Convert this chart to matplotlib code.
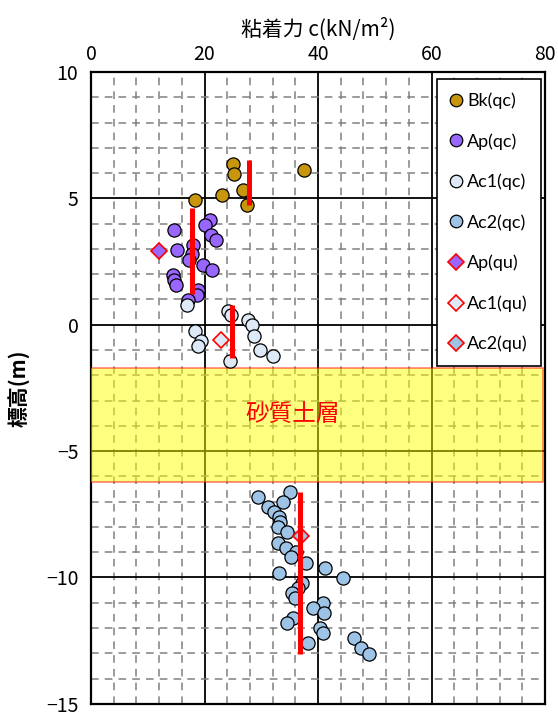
import numpy as np
import matplotlib.pyplot as plt
from matplotlib.ticker import MultipleLocator

plt.rcParams['font.family'] = ['Noto Sans CJK JP', 'DejaVu Sans']

# Bk (qc)
bk_c = [25.0, 25.2, 37.5, 26.7, 23.1, 18.3, 27.4]
bk_z = [6.36, 5.95, 6.14, 5.33, 5.15, 4.95, 4.74]

# Ap (qc)
ap_c = [20.9, 20.1, 14.6, 21.1, 22.0, 18.0, 15.2, 17.8, 17.3, 19.8, 21.3,
        14.4, 14.6, 14.9, 18.9, 18.6, 17.1]
ap_z = [4.15, 3.96, 3.75, 3.55, 3.35, 3.14, 2.96, 2.78, 2.57, 2.36, 2.16,
        1.97, 1.77, 1.57, 1.36, 1.18, 0.97]

# Ac1 (qc)
ac1_c = [17.0, 24.1, 24.7, 27.6, 28.4, 18.3, 28.8, 19.4, 18.8, 29.7, 32.1, 24.5]
ac1_z = [0.76, 0.56, 0.37, 0.17, -0.03, -0.24, -0.43, -0.63, -0.84, -1.02, -1.23, -1.43]

# Ac2 (qc)
ac2_c = [35.1, 29.5, 33.8, 31.2, 32.2, 33.2, 33.3, 32.95, 34.5, 32.95, 34.4,
         36.2, 35.2, 37.8, 41.2, 33.1, 44.4, 37.1, 36.4, 35.4, 35.9, 40.8,
         39.1, 41.1, 35.6, 34.6, 40.3, 40.9, 46.3, 38.3, 47.5, 49.0]
ac2_z = [-6.60, -6.81, -7.01, -7.22, -7.42, -7.61, -7.80, -8.02, -8.22, -8.62, -8.82,
         -9.01, -9.21, -9.42, -9.62, -9.83, -10.01, -10.22, -10.42, -10.60, -10.82, -11.00,
         -11.20, -11.40, -11.60, -11.79, -12.00, -12.20, -12.41, -12.60, -12.81, -13.01]

# qu tests
ap_qu_c, ap_qu_z = [11.9], [2.91]
ac1_qu_c, ac1_qu_z = [22.9], [-0.60]
ac2_qu_c, ac2_qu_z = [37.0], [-8.35]

# design values (red bars): c, z_top, z_bottom
design_c = [27.9, 17.8, 24.9, 36.9]
design_top = [6.5, 4.62, 0.76, -6.6]
design_bot = [4.74, 1.22, -1.31, -13.02]

# sandy layer
sand_top, sand_bot = -1.70, -6.22

fig = plt.figure(figsize=(5.58, 7.16), dpi=100)
ax = fig.add_axes([0.163, 0.017, 0.814, 0.8825])

ax.set_xlim(0, 80)
ax.set_ylim(-15, 10)
ax.xaxis.set_major_locator(MultipleLocator(20))
ax.xaxis.set_minor_locator(MultipleLocator(4))
ax.yaxis.set_major_locator(MultipleLocator(5))
ax.yaxis.set_minor_locator(MultipleLocator(1))
ax.xaxis.tick_top()
ax.xaxis.set_label_position('top')
ax.tick_params(which='both', length=0, labelsize=14)
ax.tick_params(axis='y', pad=9)
ax.tick_params(axis='x', pad=5)
ax.grid(which='major', color='black', lw=1.3, zorder=0)
ax.grid(which='minor', color='#808080', lw=1.1, ls=(0, (5, 4)), zorder=0)
ax.set_axisbelow(True)
for s in ax.spines.values():
    s.set_linewidth(1.6)

ax.set_xlabel('粘着力 c(kN/m²)', fontsize=15, labelpad=6)
ax.set_ylabel('標高(m)', fontsize=15, fontweight='bold', labelpad=12)

ax.axhspan(sand_bot, sand_top, xmin=0, xmax=0.995, facecolor='#ffff00', alpha=0.5,
           edgecolor='red', lw=1.2, zorder=3)
ax.text(35.6, -3.57, '砂質土層', color='red', fontsize=17, ha='center', va='center', zorder=4)

msize = 9.5
ax.plot(bk_c, bk_z, 'o', ms=msize, mfc='#c8960c', mec='black', mew=0.9, label='Bk(qc)', zorder=5)
ax.plot(ap_c, ap_z, 'o', ms=msize, mfc='#9966ff', mec='black', mew=0.9, label='Ap(qc)', zorder=5)
ax.plot(ac1_c, ac1_z, 'o', ms=msize, mfc='#dde9f7', mec='black', mew=0.9, label='Ac1(qc)', zorder=5)
ax.plot(ac2_c, ac2_z, 'o', ms=msize, mfc='#9dc3e6', mec='black', mew=0.9, label='Ac2(qc)', zorder=5)
ax.plot(ap_qu_c, ap_qu_z, 'D', ms=8.5, mfc='#9966ff', mec='red', mew=1.2, label='Ap(qu)', zorder=6)
ax.plot(ac1_qu_c, ac1_qu_z, 'D', ms=8.5, mfc='#dde9f7', mec='red', mew=1.2, label='Ac1(qu)', zorder=6)
ax.plot(ac2_qu_c, ac2_qu_z, 'D', ms=8.5, mfc='#9dc3e6', mec='red', mew=1.2, label='Ac2(qu)', zorder=6)

for c, t, b in zip(design_c, design_top, design_bot):
    ax.plot([c, c], [b, t], color='red', lw=3.6, solid_capstyle='butt', zorder=7)

leg = ax.legend(loc='upper right', bbox_to_anchor=(0.991, 0.989), borderaxespad=0,
                labelspacing=1.33, handlelength=0.6, handletextpad=0.3,
                borderpad=0.75, markerscale=0.95, fancybox=False, framealpha=1,
                edgecolor='black', prop={'family': ['Lato', 'DejaVu Sans'], 'size': 13})
leg.get_frame().set_linewidth(1.2)
leg.set_zorder(10)

fig.savefig('out.png', dpi=100)
